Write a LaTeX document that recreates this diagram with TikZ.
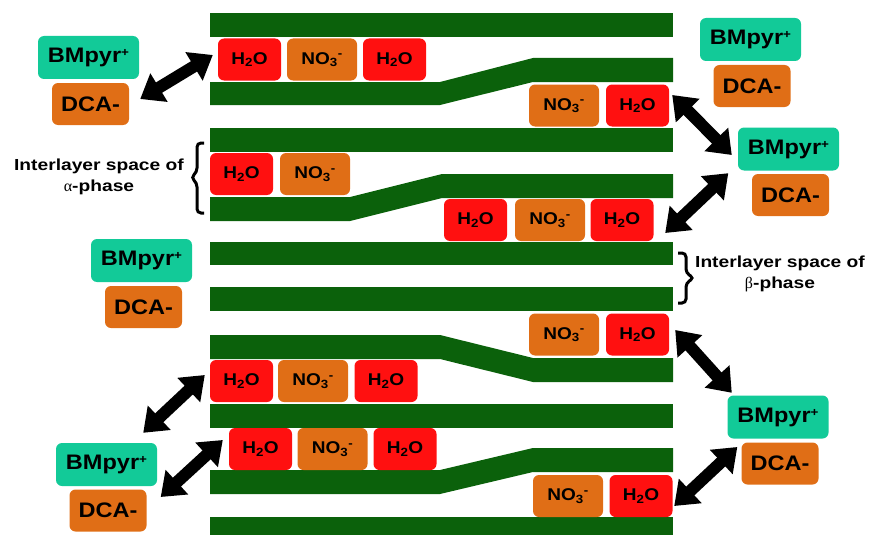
\documentclass[tikz,border=0pt]{standalone}
\usepackage{fontspec}
\setmainfont{Liberation Sans}[FakeStretch=1.12]
\newfontfamily\greekfont{Liberation Serif}
\newfontfamily\labelfont{Liberation Sans}[FakeStretch=1.2]
\usetikzlibrary{arrows.meta,calc}

\definecolor{layer}{RGB}{11,97,11}
\definecolor{water}{RGB}{255,16,16}
\definecolor{nitrate}{RGB}{224,110,22}
\definecolor{cation}{RGB}{18,202,152}

\newcommand\Hwater{H\textsubscript{2}O}
\newcommand\Nitrate{NO\textsubscript{3}\textsuperscript{-}}
\newcommand\Cation{BMpyr\raisebox{6pt}{\fontsize{12}{12}\selectfont+}}

\tikzset{
  sheet/.style={fill=layer},
  ion/.style={rounded corners=6pt, inner sep=0pt, minimum height=42pt,
    text=black, font=\bfseries\fontsize{17}{17}\selectfont},
  h2o/.style={ion, fill=water, minimum width=63pt},
  no3/.style={ion, fill=nitrate, minimum width=70pt},
  bm/.style={rounded corners=6pt, inner sep=0pt, fill=cation,
    minimum width=101pt, minimum height=43pt,
    font=\bfseries\fontsize{21}{21}\selectfont},
  dca/.style={rounded corners=6pt, inner sep=0pt, fill=nitrate,
    minimum width=77pt, minimum height=42pt,
    font=\bfseries\fontsize{21}{21}\selectfont},
  swap/.style={line width=12pt,
    {Triangle[length=22pt,width=32pt]}-{Triangle[length=22pt,width=32pt]}},
  bracket/.style={line width=3pt, rounded corners=4pt},
  lbl/.style={align=center, inner sep=0pt,
    font=\labelfont\bfseries\fontsize{16}{21}\selectfont},
}

\begin{document}
\begin{tikzpicture}[x=1pt,y=-1pt]
\useasboundingbox (0,0) rectangle (870,535);

% layered host sheets
\fill[sheet] (210,13) rectangle (673,37);
\fill[sheet] (210,82) -- (440,82) -- (533,58) -- (673,58) -- (673,82)
  -- (533,82) -- (440,105) -- (210,105) -- cycle;
\fill[sheet] (210,128) rectangle (673,152);
\fill[sheet] (210,197) -- (350,197) -- (442,174) -- (673,174) -- (673,198)
  -- (442,198) -- (350,221) -- (210,221) -- cycle;
\fill[sheet] (210,242) rectangle (673,265);
\fill[sheet] (210,287) rectangle (673,311);
\fill[sheet] (210,335) -- (440,335) -- (533,358) -- (673,358) -- (673,382)
  -- (533,382) -- (440,359) -- (210,359) -- cycle;
\fill[sheet] (210,404) rectangle (673,428);
\fill[sheet] (210,470) -- (440,470) -- (533,448) -- (673,448) -- (673,472)
  -- (533,472) -- (440,494) -- (210,494) -- cycle;
\fill[sheet] (210,517) rectangle (673,535);

% intercalated species
\node[h2o] (w1a) at (249.5,59.5) {\Hwater};
\node[no3] (n1)  at (322,59.5)   {\Nitrate};
\node[h2o] (w1b) at (394.5,59.5) {\Hwater};

\node[no3] (n2) at (564,105.5)   {\Nitrate};
\node[h2o] (w2) at (637.5,105.5) {\Hwater};

\node[h2o] (w3) at (241.5,174) {\Hwater};
\node[no3] (n3) at (315,174)   {\Nitrate};

\node[h2o] (w4a) at (475.5,220) {\Hwater};
\node[no3] (n4)  at (550,220)   {\Nitrate};
\node[h2o] (w4b) at (622,220)   {\Hwater};

\node[no3] (n5) at (564,334.5)   {\Nitrate};
\node[h2o] (w5) at (637.5,334.5) {\Hwater};

\node[h2o] (w6a) at (241.5,381) {\Hwater};
\node[no3] (n6)  at (313,381)   {\Nitrate};
\node[h2o] (w6b) at (386,381)   {\Hwater};

\node[h2o] (w7a) at (260.5,449) {\Hwater};
\node[no3] (n7)  at (332.5,449) {\Nitrate};
\node[h2o] (w7b) at (405,449)   {\Hwater};

\node[no3] (n8) at (568,496) {\Nitrate};
\node[h2o] (w8) at (641,496) {\Hwater};

% ionic liquid pairs
\node[bm]  (bA) at (88.5,57.5) {\Cation};
\node[dca] (dA) at (90.5,104)  {DCA-};
\node[bm]  (bB) at (750.5,39.5) {\Cation};
\node[dca] (dB) at (752,86)     {DCA-};
\node[bm]  (bC) at (788.5,149) {\Cation};
\node[dca] (dC) at (790.5,195) {DCA-};
\node[bm]  (bD) at (141.5,260.5) {\Cation};
\node[dca] (dD) at (143.5,307)   {DCA-};
\node[bm]  (bE) at (778,417)   {\Cation};
\node[dca] (dE) at (780,463.5) {DCA-};
\node[bm]  (bF) at (106.5,464.5) {\Cation};
\node[dca] (dF) at (108,510.5)   {DCA-};

% exchange arrows
\draw[swap] ($(dA.east)+(11,-5)$) -- ($(w1a.west)+(-5,-4.5)$);
\draw[swap] ($(w2.east)+(3,-10.5)$) -- ($(bC.west)+(-6,6)$);
\draw[swap] ($(bC.south west)+(-9.5,2.5)$) -- ($(w4b.east)+(11.5,13)$);
\draw[swap] ($(w5.east)+(6,-4.5)$) -- ($(bE.north west)+(4.5,-2.5)$);
\draw[swap] ($(dE.west)+(-4,-16.5)$) -- ($(w8.east)+(1.5,10)$);
\draw[swap] ($(w6a.west)+(-5,-6)$) -- ($(bF.north east)+(-14,-10)$);
\draw[swap] ($(w7a.west)+(-6,-9)$) -- ($(dF.east)+(14,-13.5)$);

% interlayer spacing annotations
\draw[bracket] (204,143) -- (197,143) -- (197,172) -- (191,177.5)
  -- (197,183) -- (197,213) -- (204,213);
\node[lbl] (la) at (99,176.5) {Interlayer space of\\{\greekfont\mdseries α}-phase};
\draw[bracket] (678,253) -- (686,253) -- (686,273) -- (694,278)
  -- (686,283) -- (686,303) -- (678,303);
\node[lbl] (lb) at (780,274) {Interlayer space of\\{\greekfont\mdseries β}-phase};
\end{tikzpicture}
\end{document}
